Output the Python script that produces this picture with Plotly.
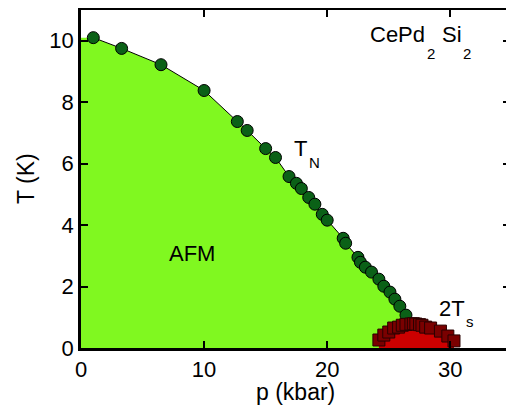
import plotly.graph_objects as go

# T_N data (circles)
p_N = [1.0, 3.3, 6.5, 10.0, 12.7, 13.5, 15.0, 15.8, 16.9, 17.5, 17.9, 18.5, 19.0,
       19.6, 20.0, 21.3, 21.5, 22.5, 22.7, 23.1, 23.6, 24.2, 24.6, 25.1, 25.5, 25.9, 26.4]
T_N = [10.1, 9.75, 9.22, 8.38, 7.37, 7.08, 6.49, 6.2, 5.58, 5.36, 5.19, 4.9, 4.68,
       4.35, 4.16, 3.57, 3.41, 2.95, 2.79, 2.63, 2.47, 2.24, 2.01, 1.82, 1.59, 1.36, 1.07]

# 2T_s data (squares)
p_s = [24.2, 24.6, 25.0, 25.4, 25.8, 26.1, 26.4, 26.8, 27.0, 27.2, 27.5, 27.7, 28.0,
       28.4, 29.2, 29.8, 30.3]
T_s = [0.26, 0.42, 0.52, 0.65, 0.68, 0.74, 0.77, 0.78, 0.79, 0.78, 0.76, 0.74, 0.68,
       0.65, 0.55, 0.39, 0.23]

# phase-region boundaries
green_p = [0.0] + p_N + [26.8, 26.8, 0.0]
green_T = [10.1] + T_N + [0.78, 0.0, 0.0]
red_p = [p_s[0]] + p_s + [p_s[-1]]
red_T = [0.0] + T_s + [0.0]

FONT = "Liberation Sans, Arial, Helvetica, sans-serif"

fig = go.Figure()
fig.add_trace(go.Scatter(x=green_p, y=green_T, mode="lines", fill="toself",
                         fillcolor="#80F820", line=dict(width=0), hoverinfo="skip"))
fig.add_trace(go.Scatter(x=red_p, y=red_T, mode="lines", fill="toself",
                         fillcolor="#CC0000", line=dict(width=0), hoverinfo="skip"))
fig.add_trace(go.Scatter(x=p_N, y=T_N, mode="lines+markers",
                         line=dict(color="black", width=1),
                         marker=dict(symbol="circle", size=12, color="#0B6117",
                                     line=dict(color="black", width=1))))
fig.add_trace(go.Scatter(x=p_s, y=T_s, mode="markers",
                         marker=dict(symbol="square", size=12, color="#7A0000",
                                     line=dict(color="#2A0000", width=1))))

def ann(x, y, text, size):
    fig.add_annotation(x=x, y=y, xref="x", yref="y", text=text, showarrow=False,
                       font=dict(family=FONT, size=size, color="black"),
                       xanchor="center", yanchor="middle")

ann(17.8, 6.48, "T", 22)
ann(19.0, 6.03, "N", 15)
ann(9.02, 3.06, "AFM", 22)
ann(30.14, 1.30, "2T", 22)
ann(31.6, 0.85, "s", 15)
ann(25.75, 10.2, "CePd", 22)
ann(28.47, 9.58, "2", 15)
ann(30.1, 10.2, "Si", 22)
ann(31.36, 9.58, "2", 15)

# axis titles
fig.add_annotation(x=0.5, y=0, xref="paper", yref="paper", yshift=-44,
                   text="p (kbar)", showarrow=False,
                   font=dict(family=FONT, size=23, color="black"),
                   xanchor="center", yanchor="middle")
fig.add_annotation(x=0, y=0.5, xref="paper", yref="paper", xshift=-55,
                   text="T (K)", showarrow=False, textangle=-90,
                   font=dict(family=FONT, size=23, color="black"),
                   xanchor="center", yanchor="middle")

axis_common = dict(showgrid=False, zeroline=False, showline=True, linewidth=2.5,
                   linecolor="black", mirror="ticks", ticks="inside", ticklen=7,
                   tickwidth=2, tickcolor="black", automargin=False,
                   tickfont=dict(family=FONT, size=22, color="black"))

fig.update_xaxes(range=[0, 34.85], tickvals=[0, 10, 20, 30], **axis_common)
fig.update_yaxes(range=[0, 11], tickvals=[0, 2, 4, 6, 8, 10], **axis_common)

# page body has an 8px default margin, so the figure is sized to fit the window
fig.update_layout(width=506, height=399, margin=dict(l=73, r=4, t=2, b=59),
                  plot_bgcolor="white", paper_bgcolor="white", showlegend=False)

fig.write_html("out.html")
